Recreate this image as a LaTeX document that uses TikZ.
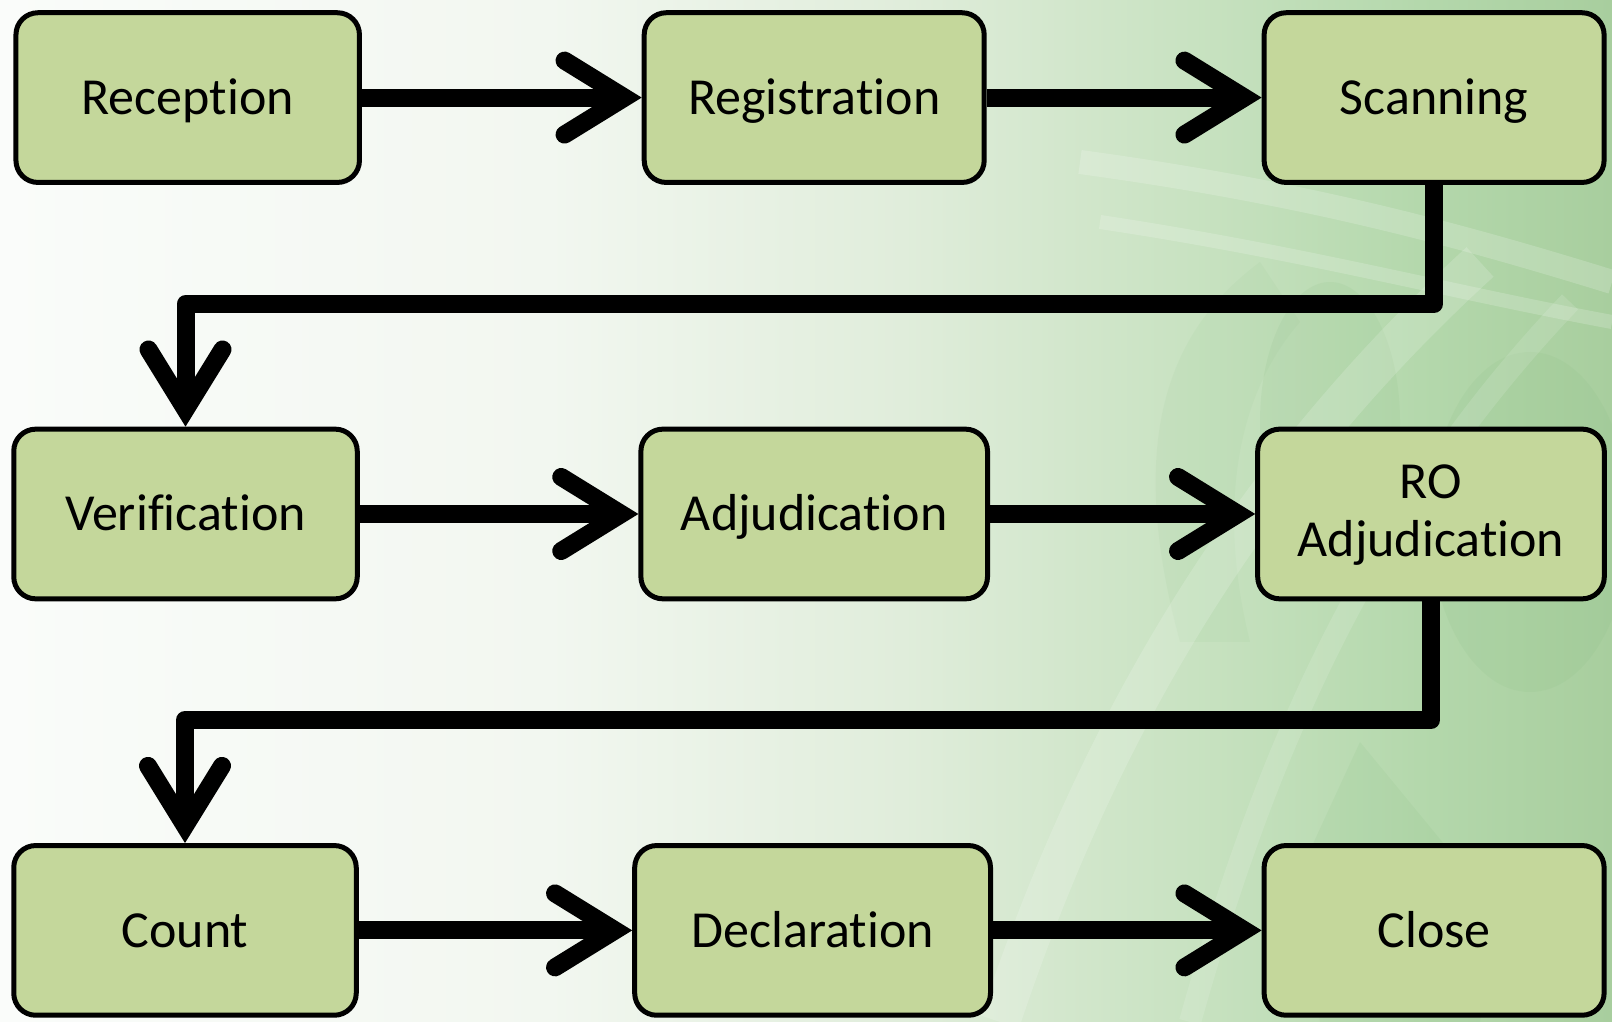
\documentclass[tikz,border=0pt]{standalone}
\usepackage{fontspec}
\setmainfont{Carlito}[Ligatures=NoCommon]
\usetikzlibrary{arrows.meta,calc}
\definecolor{boxfill}{HTML}{C4D79B}
\definecolor{bgdark}{HTML}{86BC80}
\definecolor{bg0}{HTML}{FAFCFA}
\definecolor{bg1}{HTML}{F2F7F0}
\definecolor{bg2}{HTML}{E0EDDB}
\definecolor{bg3}{HTML}{C8E2C1}
\definecolor{bg4}{HTML}{B4D8AC}
\definecolor{bg5}{HTML}{A8CE9E}
\pgfdeclarehorizontalshading{bgshade}{100bp}{%
  color(0bp)=(bg0);
  color(25bp)=(bg0);
  color(42bp)=(bg1);
  color(53bp)=(bg2);
  color(62bp)=(bg3);
  color(69bp)=(bg4);
  color(75bp)=(bg5);
  color(100bp)=(bg5)}
\begin{document}
\begin{tikzpicture}[x=1pt,y=1pt,
  box/.style={draw=black, line width=5pt, fill=boxfill, rounded corners=22pt,
    minimum height=169.7pt, inner sep=0pt, align=center,
    text height=45.4pt, text depth=12pt,
    font=\fontsize{52}{58}\selectfont},
  conn/.style={line width=18pt, line join=round,
    -{Straight Barb[length=60pt,width=74pt,line cap=round]}},
  streak/.style={white, line width=24pt, opacity=0.18},
  blob/.style={fill=bgdark, opacity=0.12}]
\useasboundingbox (0,0) rectangle (1612,1022);
% background
\shade[shading=bgshade] (0,0) rectangle (1612,1022);
\begin{scope}
\clip (0,0) rectangle (1612,1022);
\fill[blob] (1330,600) ellipse (70pt and 140pt);
\fill[blob] (1530,500) ellipse (100pt and 170pt);
\fill[blob] (1300,150) -- (1360,280) -- (1500,110) -- (1480,0) -- (1320,0) -- cycle;
\fill[blob, opacity=0.08] (1180,380) .. controls (1120,600) and (1180,700) .. (1260,760) -- (1300,700) .. controls (1230,620) and (1220,500) .. (1250,380) -- cycle;
\draw[streak] (1080,860) .. controls (1300,830) and (1450,790) .. (1612,740);
\draw[streak, line width=14pt] (1100,800) .. controls (1300,770) and (1450,730) .. (1612,700);
\draw[white, opacity=0.16, line width=40pt] (1000,0) .. controls (1100,300) and (1250,550) .. (1480,760);
\draw[white, opacity=0.12, line width=22pt] (1190,0) .. controls (1260,250) and (1360,500) .. (1570,720);
\end{scope}
% boxes
\node[box, minimum width=343.5pt] (rec)  at (187.7, 924.4) {Reception};
\node[box, minimum width=340pt] (reg)  at (814.2, 924.4) {Registration};
\node[box, minimum width=340pt] (scan) at (1434.1, 924.4) {Scanning};
\node[box, minimum width=343.5pt] (ver)  at (185.5, 508) {Verification};
\node[box, minimum width=346.6pt] (adj)  at (814.2, 508) {Adjudication};
\node[box, minimum width=346.6pt, text height=97.4pt, text depth=12pt] (ro) at (1431, 508) {RO\\Adjudication};
\node[box, minimum width=342.5pt] (cnt)  at (185, 91.6) {Count};
\node[box, minimum width=355.8pt] (dec)  at (812.6, 91.6) {Declaration};
\node[box, minimum width=340pt] (cls)  at (1434.1, 91.6) {Close};
% connectors
\coordinate (h1) at (0,718);
\coordinate (h2) at (0,302);
\draw[conn] (rec.east) -- (reg.west);
\draw[conn] (reg.east) -- (scan.west);
\draw[conn] (scan.south) -- (scan.south |- h1) -| (ver.north);
\draw[conn] (ver.east) -- (adj.west);
\draw[conn] (adj.east) -- (ro.west);
\draw[conn] (ro.south) -- (ro.south |- h2) -| (cnt.north);
\draw[conn] (cnt.east) -- (dec.west);
\draw[conn] (dec.east) -- (cls.west);
\end{tikzpicture}
\end{document}
